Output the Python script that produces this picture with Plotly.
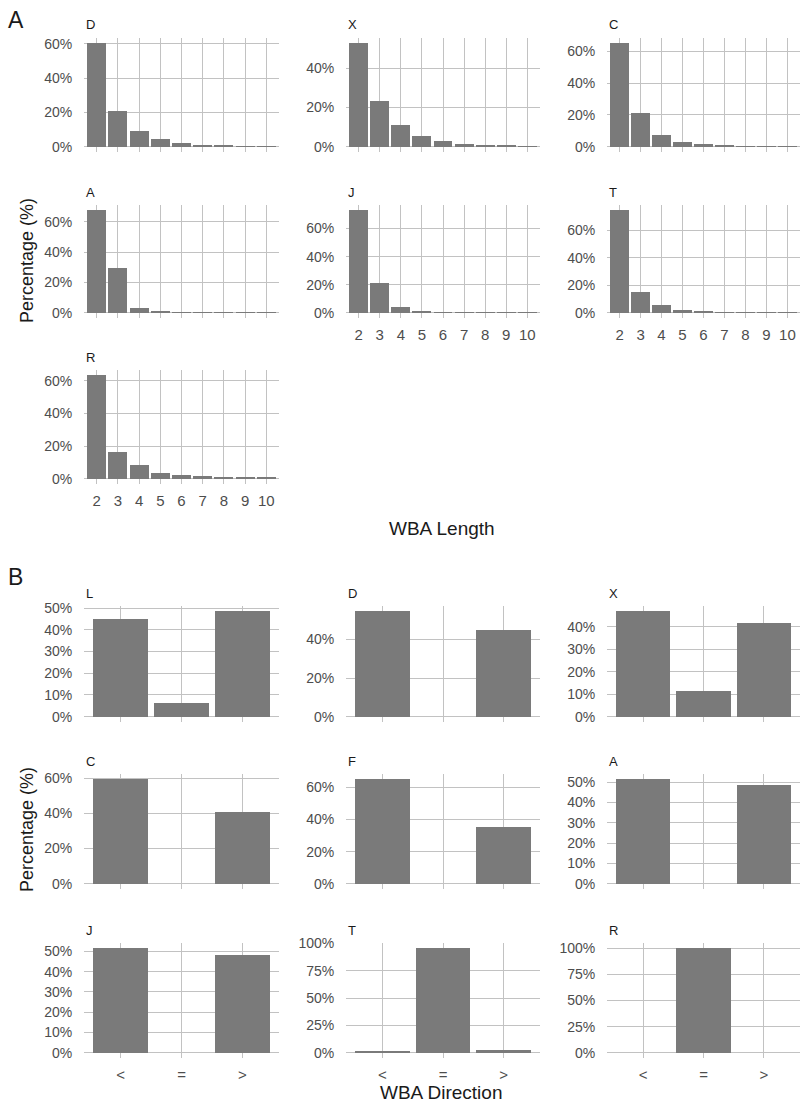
import plotly.graph_objects as go

# ---------------- data ----------------
lengths = ["2", "3", "4", "5", "6", "7", "8", "9", "10"]
len_D = [60.3, 20.9, 9.3, 4.8, 2.3, 1.0, 0.6, 0.3, 0.2]
len_X = [52.6, 23.3, 11.0, 5.4, 2.9, 1.5, 0.9, 0.5, 0.3]
len_C = [65.0, 21.2, 7.7, 3.3, 1.7, 0.6, 0.2, 0.1, 0.1]
len_A = [67.8, 29.9, 3.2, 0.6, 0.1, 0.1, 0.05, 0.05, 0.05]
len_J = [73.1, 21.5, 4.0, 0.9, 0.2, 0.1, 0.05, 0.05, 0.05]
len_T = [74.5, 15.0, 5.5, 2.4, 1.4, 0.5, 0.2, 0.1, 0.05]
len_R = [63.5, 16.7, 8.3, 3.3, 2.4, 2.0, 1.4, 0.8, 0.6]

directions = ["<", "=", ">"]
dir_L = [45.1, 6.2, 48.5]
dir_D = [54.6, 0.0, 44.9]
dir_X = [46.9, 11.3, 41.8]
dir_C = [59.4, 0.0, 40.6]
dir_F = [65.1, 0.0, 35.3]
dir_A = [51.5, 0.0, 48.9]
dir_J = [51.6, 0.0, 48.4]
dir_T = [1.5, 95.5, 2.5]
dir_R = [0.0, 100.0, 0.0]

ticks_20 = [0, 20, 40, 60]
ticks_20s = [0, 20, 40]
ticks_10 = [0, 10, 20, 30, 40, 50]
ticks_10s = [0, 10, 20, 30, 40]
ticks_25 = [0, 25, 50, 75, 100]

panel_names_A = ["D", "X", "C", "A", "J", "T", "R"]
panel_vals_A = [len_D, len_X, len_C, len_A, len_J, len_T, len_R]
panel_ticks_A = [ticks_20, ticks_20s, ticks_20, ticks_20, ticks_20, ticks_20, ticks_20]

panel_names_B = ["L", "D", "X", "C", "F", "A", "J", "T", "R"]
panel_vals_B = [dir_L, dir_D, dir_X, dir_C, dir_F, dir_A, dir_J, dir_T, dir_R]
panel_ticks_B = [ticks_10, ticks_20s, ticks_10s, ticks_20, ticks_20, ticks_10, ticks_10, ticks_25, ticks_25]

# ---------------- geometry (pixels) ----------------
W, H = 801, 1102
col_x = [(84, 279), (346, 540), (607, 800)]
rows_A = [(38, 152), (205, 318), (370, 484)]
rows_B = [(606, 722), (774, 889), (943, 1058)]

BAR = "#7a7a7a"
GRID = "#c2c2c2"
TICK = "#4d4d4d"
FONT = "Liberation Sans, Arial, sans-serif"

fig = go.Figure()
layout = {}
annotations = []


def px_x(v):
    return v / W


def px_y(v):
    return 1 - v / H


idx = [0]


def add_panel(cats, vals, tickvals, name, col, row, show_x):
    idx[0] += 1
    i = idx[0]
    xa = "x" if i == 1 else f"x{i}"
    ya = "y" if i == 1 else f"y{i}"
    fig.add_trace(go.Bar(x=cats, y=vals, xaxis=xa, yaxis=ya, width=0.9,
                         marker=dict(color=BAR, line=dict(width=0)),
                         showlegend=False, hoverinfo="x+y"))
    x0, x1 = col_x[col]
    y0, y1 = row
    vmax = max(vals)
    layout["xaxis" if i == 1 else f"xaxis{i}"] = dict(
        domain=[px_x(x0), px_x(x1)], anchor=ya, type="category",
        categoryorder="array", categoryarray=cats, automargin=False,
        range=[-0.6, len(cats) - 0.4], showgrid=True, gridcolor=GRID, gridwidth=1,
        zeroline=False, showline=False, showticklabels=show_x,
        ticks="outside", ticklen=3, tickcolor="rgba(0,0,0,0)",
        tickfont=dict(size=15, color=TICK, family=FONT), fixedrange=True)
    layout["yaxis" if i == 1 else f"yaxis{i}"] = dict(
        domain=[px_y(y1), px_y(y0)], anchor=xa, automargin=False,
        range=[-0.05 * vmax, 1.05 * vmax], tickmode="array", tickvals=tickvals,
        ticktext=[f"{v}%" for v in tickvals], showgrid=True, gridcolor=GRID, gridwidth=1,
        zeroline=False, showline=False,
        ticks="outside", ticklen=8, tickcolor="rgba(0,0,0,0)",
        tickfont=dict(size=14, color=TICK, family=FONT), fixedrange=True)
    annotations.append(dict(text=name, x=px_x(x0), y=px_y(y0 - 13), xref="paper", yref="paper",
                            xanchor="left", yanchor="middle", showarrow=False,
                            font=dict(size=13, color="#1a1a1a", family=FONT)))


# Panel A
for k, (nm, vals, tv) in enumerate(zip(panel_names_A, panel_vals_A, panel_ticks_A)):
    r, c = divmod(k, 3)
    show_x = (r == 2) or (r == 1 and c >= 1)
    add_panel(lengths, vals, tv, nm, c, rows_A[r], show_x)

# Panel B
for k, (nm, vals, tv) in enumerate(zip(panel_names_B, panel_vals_B, panel_ticks_B)):
    r, c = divmod(k, 3)
    add_panel(directions, vals, tv, nm, c, rows_B[r], r == 2)

# Section letters
annotations.append(dict(text="A", x=px_x(6), y=px_y(20), xref="paper", yref="paper",
                        xanchor="left", yanchor="middle", showarrow=False,
                        font=dict(size=23, color="#1a1a1a", family=FONT)))
annotations.append(dict(text="B", x=px_x(6), y=px_y(577), xref="paper", yref="paper",
                        xanchor="left", yanchor="middle", showarrow=False,
                        font=dict(size=23, color="#1a1a1a", family=FONT)))

# Axis titles
for yc in (261, 830):
    annotations.append(dict(text="Percentage (%)", x=px_x(27), y=px_y(yc), xref="paper", yref="paper",
                            xanchor="center", yanchor="middle", textangle=-90, showarrow=False,
                            font=dict(size=18, color="#1a1a1a", family=FONT)))
annotations.append(dict(text="WBA Length", x=px_x(442), y=px_y(528), xref="paper", yref="paper",
                        xanchor="center", yanchor="middle", showarrow=False,
                        font=dict(size=19, color="#1a1a1a", family=FONT)))
annotations.append(dict(text="WBA Direction", x=px_x(441), y=px_y(1092), xref="paper", yref="paper",
                        xanchor="center", yanchor="middle", showarrow=False,
                        font=dict(size=19, color="#1a1a1a", family=FONT)))

fig.update_layout(**layout)
fig.update_layout(width=W, height=H, margin=dict(l=0, r=0, t=0, b=0, autoexpand=False),
                  paper_bgcolor="white", plot_bgcolor="white",
                  annotations=annotations, bargap=0, font=dict(family=FONT))

fig.write_html("out.html", config={"displayModeBar": False},
               post_script="document.body.style.margin='0';document.body.style.overflow='hidden';")
